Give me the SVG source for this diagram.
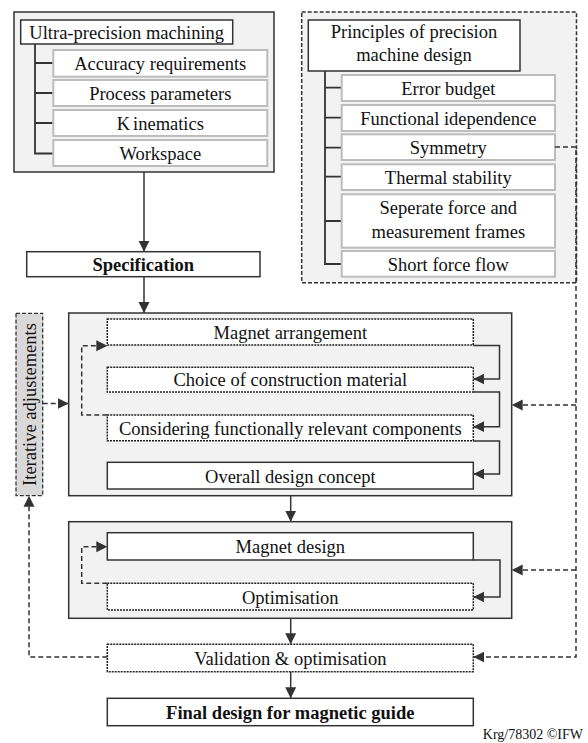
<svg xmlns="http://www.w3.org/2000/svg" width="588" height="743" viewBox="0 0 588 743">
<defs>
<marker id="ah" markerUnits="userSpaceOnUse" markerWidth="12" markerHeight="12" viewBox="0 0 12 12" refX="11" refY="6" orient="auto">
<path d="M0,0.5 L11,6 L0,11.5 Z" fill="#333"/>
</marker>
<style>
text{font-family:"Liberation Serif","Times New Roman",serif;font-size:18.5px;fill:#111;text-anchor:middle}
.b{font-weight:bold}
.grp{fill:#f2f2f2;stroke:#333;stroke-width:1.5}
.grpd{fill:#f2f2f2;stroke:#333;stroke-width:1.5;stroke-dasharray:4 2}
.solid{fill:#fff;stroke:#333;stroke-width:1.5}
.item{fill:#fff;stroke:#bdbdbd;stroke-width:2}
.dot{fill:#fff;stroke:#222;stroke-width:1.5;stroke-dasharray:2 1}
.iter{fill:#d9d9d9;stroke:#333;stroke-width:1.3;stroke-dasharray:4 2}
.tree{fill:none;stroke:#333;stroke-width:1.8}
.c{fill:none;stroke:#333;stroke-width:1.5}
.cd{fill:none;stroke:#333;stroke-width:1.5;stroke-dasharray:5 3}
.foot{font-size:14px;text-anchor:end}
</style>
</defs>

<g id="ultra-precision">
<rect class="grp" x="14" y="12" width="260" height="160"/>
<path class="tree" d="M35,44 V153.5 H53 M35,63 H53 M35,93 H53 M35,123 H53"/>
<rect class="solid" x="20.7" y="20" width="212" height="24"/>
<text x="126.7" y="38.5">Ultra-precision machining</text>
<g id="accuracy"><rect class="item" x="53.3" y="50" width="214" height="26.7"/><text x="160.3" y="70">Accuracy requirements</text></g>
<g id="process"><rect class="item" x="53.3" y="80" width="214" height="26"/><text x="160.3" y="100">Process parameters</text></g>
<g id="kinematics"><rect class="item" x="53.3" y="110" width="214" height="26"/><text x="160.3" y="130"><tspan>K</tspan><tspan dx="3">inematics</tspan></text></g>
<g id="workspace"><rect class="item" x="53.3" y="140" width="214" height="26"/><text x="160.3" y="160">Workspace</text></g>
</g>

<g id="principles">
<rect class="grpd" x="301.7" y="12" width="274.8" height="270.7"/>
<path class="tree" d="M325,71 V264 H341.7 M325,87.7 H341.7 M325,117.7 H341.7 M325,147.7 H341.7 M325,176.7 H341.7 M325,221 H341.7"/>
<rect class="solid" x="308.3" y="20" width="211.7" height="51"/>
<text x="414" y="38">Principles of precision</text>
<text x="414" y="61">machine design</text>
<g id="error-budget"><rect class="item" x="341.7" y="75" width="213.3" height="26"/><text x="448.3" y="95">Error budget</text></g>
<g id="functional"><rect class="item" x="341.7" y="105" width="213.3" height="26"/><text x="448.3" y="124.5">Functional idependence</text></g>
<g id="symmetry"><rect class="item" x="341.7" y="134.3" width="213.3" height="25.7"/><text x="448.3" y="154">Symmetry</text></g>
<g id="thermal"><rect class="item" x="341.7" y="164.3" width="213.3" height="25.7"/><text x="448.3" y="184">Thermal stability</text></g>
<g id="seperate"><rect class="item" x="341.7" y="194.3" width="213.3" height="53.4"/><text x="448.3" y="214">Seperate force and</text><text x="448.3" y="238">measurement frames</text></g>
<g id="short-force"><rect class="item" x="341.7" y="251" width="213.3" height="25.7"/><text x="448.3" y="270.5">Short force flow</text></g>
</g>

<g id="specification"><rect class="solid" x="26.7" y="251.7" width="233.3" height="25"/><text class="b" x="143.3" y="270.5">Specification</text></g>

<g id="iterative"><rect class="iter" x="16" y="313.3" width="26.7" height="182.4"/><text transform="translate(35.5,404.5) rotate(-90)" x="0" y="0">Iterative adjustements</text></g>

<g id="concept-group">
<rect class="grp" x="68.7" y="313" width="443" height="182.7"/>
<g id="magnet-arrangement"><rect class="dot" x="107.3" y="319" width="366" height="26"/><text x="290.3" y="339">Magnet arrangement</text></g>
<g id="construction-material"><rect class="dot" x="107.3" y="367.3" width="366" height="24.7"/><text x="290.3" y="386">Choice of construction material</text></g>
<g id="relevant-components"><rect class="dot" x="107.3" y="415" width="366" height="25.7"/><text x="290.3" y="434.5">Considering functionally relevant components</text></g>
<g id="overall-concept"><rect class="solid" x="107.3" y="462.3" width="366" height="26.7"/><text x="290.3" y="482.5">Overall design concept</text></g>
</g>

<g id="design-group">
<rect class="grp" x="68.7" y="521.7" width="443" height="96.6"/>
<g id="magnet-design"><rect class="solid" x="107.3" y="532.7" width="366" height="27.3"/><text x="290.3" y="553">Magnet design</text></g>
<g id="optimisation"><rect class="dot" x="107.3" y="583.3" width="366" height="26.7"/><text x="290.3" y="603.5">Optimisation</text></g>
</g>

<g id="validation"><rect class="dot" x="107.3" y="644.3" width="366" height="27.4"/><text x="290.3" y="665">Validation &amp; optimisation</text></g>

<g id="final"><rect class="solid" x="107.3" y="698.3" width="366" height="27.4"/><text class="b" x="290.3" y="719">Final design for magnetic guide</text></g>

<g id="connectors">
<path class="c" marker-end="url(#ah)" d="M144,172 V251.7"/>
<path class="c" marker-end="url(#ah)" d="M144,276.7 V313"/>
<path class="c" marker-end="url(#ah)" d="M290.7,495.7 V521.7"/>
<path class="c" marker-end="url(#ah)" d="M290.7,618.3 V644.3"/>
<path class="c" marker-end="url(#ah)" d="M290.7,671.7 V698.3"/>
<path class="c" marker-end="url(#ah)" d="M473.3,345.5 H499.5 V379 H473.3"/>
<path class="c" marker-end="url(#ah)" d="M473.3,392 H499.5 V426.7 H473.3"/>
<path class="c" marker-end="url(#ah)" d="M473.3,441 H499.5 V474 H473.3"/>
<path class="c" marker-end="url(#ah)" d="M473.3,560 H500 V597 H473.3"/>
<path class="cd" marker-end="url(#ah)" d="M107.3,415 H81.7 V345.7 H107.3"/>
<path class="cd" marker-end="url(#ah)" d="M107.3,583.3 H81.7 V546.7 H107.3"/>
<path class="cd" marker-end="url(#ah)" d="M42.7,403.5 H68.7"/>
<path class="cd" marker-end="url(#ah)" d="M107.3,657 H29 V495.7"/>
<path class="cd" marker-end="url(#ah)" d="M555,147 H576 V657 H473.3"/>
<path class="cd" marker-end="url(#ah)" d="M576,405 H511.7"/>
<path class="cd" marker-end="url(#ah)" d="M576,570 H511.7"/>
</g>

<text class="foot" x="583" y="739">Krg/78302 ©IFW</text>
</svg>
